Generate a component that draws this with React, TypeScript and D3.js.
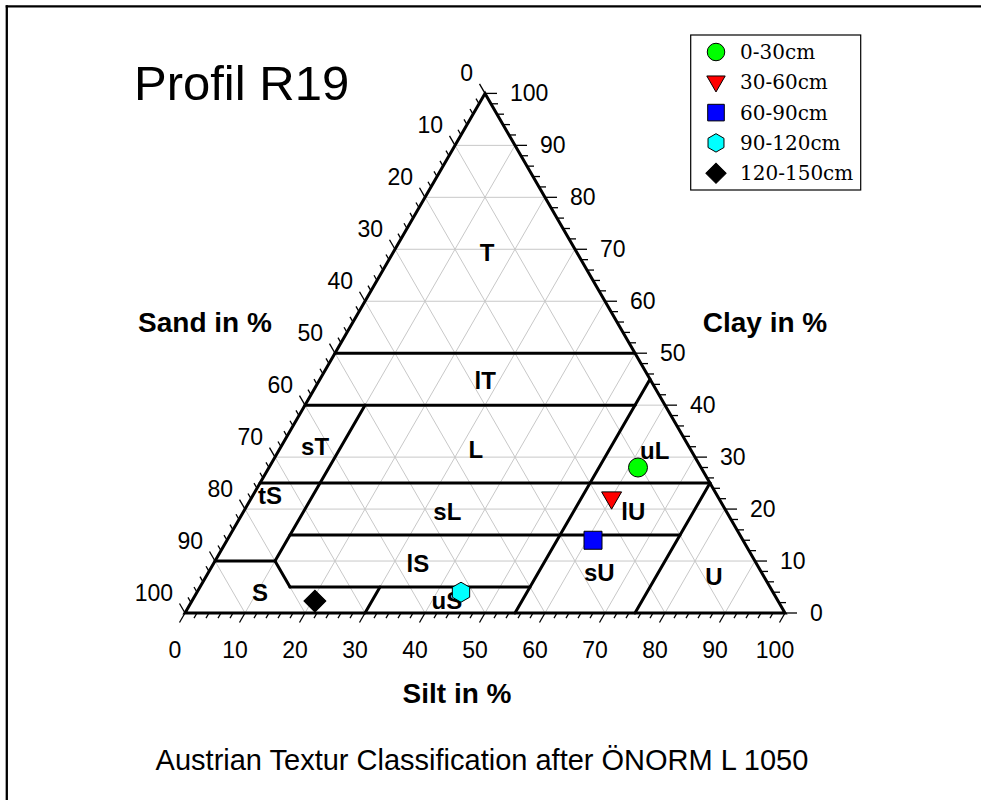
import React from "react";
import * as d3 from "d3";

// ---- data ----
const seriesNames = ["0-30cm", "30-60cm", "60-90cm", "90-120cm", "120-150cm"];
const siltValues = [61.5, 60, 61, 44, 20.5];
const clayValues = [28, 22.2, 14, 4, 2.3];
const markerShapes = ["circle", "triangleDown", "square", "hexagon", "diamond"];
const markerColors = ["#00ff00", "#ff0000", "#0000ff", "#00ffff", "#000000"];

const tickValues = [0, 10, 20, 30, 40, 50, 60, 70, 80, 90, 100];

// class boundaries as [silt, clay] pairs
const boundaryFrom = [[0, 50], [0, 40], [0, 25], [10, 15], [0, 10], [15, 5], [10, 10], [10, 10], [30, 0], [55, 0], [75, 0]];
const boundaryTo = [[50, 50], [55, 40], [75, 25], [75, 15], [10, 10], [55, 5], [10, 40], [15, 5], [30, 5], [55, 45], [75, 25]];

const classNames = ["T", "lT", "L", "sT", "uL", "tS", "sL", "lU", "lS", "sU", "U", "S", "uS"];
const classSilt = [15.7, 27.7, 32.7, 5.7, 62.7, 2.8, 33.9, 64.9, 34, 65.2, 84.6, 10.5, 42.4];
const classClay = [69.3, 44.65, 31.56, 31.95, 31.18, 22.7, 19.63, 19.63, 9.62, 7.7, 7.12, 4.04, 2.5];

const W = 981;
const H = 800;

const sx = d3.scaleLinear().domain([0, 100]).range([185, 785]);
const sy = d3.scaleLinear().domain([0, 100]).range([613, 93.4]);
const px = (silt: number, clay: number) => sx(silt) + (sx(clay) - sx(0)) / 2;
const py = (_silt: number, clay: number) => sy(clay);

const sans = "'Liberation Sans', Arial, sans-serif";

function markerPath(shape: string, scale = 1): string {
  if (shape === "circle") return d3.symbol().type(d3.symbolCircle).size(Math.PI * 9.5 * 9.5 * scale)()!;
  if (shape === "triangleDown") return d3.symbol().type(d3.symbolTriangle).size(173 * scale)()!;
  if (shape === "square") return d3.symbol().type(d3.symbolSquare).size(18 * 18 * scale)()!;
  if (shape === "diamond") return d3.symbol().type(d3.symbolSquare).size(15.5 * 15.5 * scale)()!;
  const r = 10 * Math.sqrt(scale);
  const pts: [number, number][] = d3.range(6).map((k) => {
    const a = ((-90 + 60 * k) * Math.PI) / 180;
    return [r * Math.cos(a), r * Math.sin(a)];
  });
  return d3.line()(pts)! + "Z";
}
function markerRotate(shape: string) {
  if (shape === "triangleDown") return 180;
  if (shape === "diamond") return 45;
  return 0;
}

export default function App() {
  const minor = d3.range(0, 101, 2);
  const grid = d3.range(10, 100, 10);
  const s3 = Math.sqrt(3) / 2;

  return (
    <div style={{ position: "fixed", left: 0, top: 0, width: W, height: H, overflow: "hidden", background: "#fff" }}>
      <svg width={W} height={H} viewBox={`0 0 ${W} ${H}`} style={{ display: "block" }}>
        <rect x={0} y={0} width={W} height={H} fill="#fff" />
        <g stroke="#000" strokeWidth={2.3}>
          <line x1={5.7} y1={6.3} x2={W + 5} y2={6.3} />
          <line x1={6.8} y1={5.2} x2={6.8} y2={H + 5} />
        </g>

        {/* grid */}
        <g stroke="#c8c8c8" strokeWidth={1}>
          {grid.map((v) => (
            <g key={v}>
              <line x1={px(0, v)} y1={py(0, v)} x2={px(100 - v, v)} y2={py(100 - v, v)} />
              <line x1={px(v, 0)} y1={py(v, 0)} x2={px(v, 100 - v)} y2={py(v, 100 - v)} />
              <line x1={px(100 - v, 0)} y1={py(100 - v, 0)} x2={px(0, 100 - v)} y2={py(0, 100 - v)} />
            </g>
          ))}
        </g>

        {/* ticks */}
        <g stroke="#000" strokeWidth={1.3}>
          {minor.map((v) => {
            const major = v % 10 === 0;
            const Lb = major ? 11 : 6;
            const Lr = major ? 12 : 7;
            const bx = px(v, 0), by = py(v, 0);
            const rx = px(100 - v, v), ry = py(100 - v, v);
            const lx = px(0, 100 - v), ly = py(0, 100 - v);
            return (
              <g key={v}>
                <line x1={bx} y1={by} x2={bx - 0.5 * Lb} y2={by + s3 * Lb} />
                <line x1={rx} y1={ry} x2={rx + Lr} y2={ry} />
                <line x1={lx} y1={ly} x2={lx - 0.5 * Lb} y2={ly - s3 * Lb} />
              </g>
            );
          })}
        </g>

        {/* class boundaries */}
        <g stroke="#000" strokeWidth={3} strokeLinecap="round">
          {boundaryFrom.map((f, i) => (
            <line
              key={i}
              x1={px(f[0], f[1])}
              y1={py(f[0], f[1])}
              x2={px(boundaryTo[i][0], boundaryTo[i][1])}
              y2={py(boundaryTo[i][0], boundaryTo[i][1])}
            />
          ))}
        </g>

        {/* triangle outline */}
        <path
          d={d3.line()([
            [px(0, 0), py(0, 0)],
            [px(100, 0), py(100, 0)],
            [px(0, 100), py(0, 100)],
          ])! + "Z"}
          fill="none"
          stroke="#000"
          strokeWidth={3}
          strokeLinejoin="miter"
        />

        {/* class labels */}
        <g fontFamily={sans} fontWeight="bold" fontSize={24} textAnchor="middle" dominantBaseline="central">
          {classNames.map((n, i) => (
            <text key={n} x={px(classSilt[i], classClay[i])} y={py(classSilt[i], classClay[i])}>
              {n}
            </text>
          ))}
        </g>

        {/* tick labels */}
        <g fontFamily={sans} fontSize={23} fill="#000">
          {tickValues.map((v) => (
            <g key={v}>
              <text x={px(v, 0) - 10} y={650} textAnchor="middle" dominantBaseline="central">
                {v}
              </text>
              <text x={px(100 - v, v) + 25} y={py(100 - v, v)} textAnchor="start" dominantBaseline="central">
                {v}
              </text>
              <text x={px(0, 100 - v) - 12} y={py(0, 100 - v) - 20} textAnchor="end" dominantBaseline="central">
                {v}
              </text>
            </g>
          ))}
        </g>

        {/* data points */}
        <g stroke="#000" strokeWidth={1}>
          {siltValues.map((s, i) => (
            <path
              key={i}
              d={markerPath(markerShapes[i])}
              fill={markerColors[i]}
              transform={`translate(${px(s, clayValues[i])},${py(s, clayValues[i])}) rotate(${markerRotate(markerShapes[i])})`}
            />
          ))}
        </g>

        {/* axis titles */}
        <g fontFamily={sans} fontWeight="bold" fontSize={28} textAnchor="middle" dominantBaseline="central">
          <text x={205} y={322}>Sand in %</text>
          <text x={765} y={322}>Clay in %</text>
          <text x={457} y={693}>Silt in %</text>
        </g>

        <text x={134} y={100} fontFamily={sans} fontSize={49}>
          Profil R19
        </text>

        <text x={482} y={760} fontFamily={sans} fontSize={29} textAnchor="middle" dominantBaseline="central">
          Austrian Textur Classification after ÖNORM L 1050
        </text>

        {/* legend */}
        <g>
          <rect x={690.7} y={35} width={170} height={155} fill="#fff" stroke="#000" strokeWidth={1.2} />
          {seriesNames.map((n, i) => {
            const cy = 52 + i * 30.3;
            return (
              <g key={n}>
                <path
                  d={markerPath(markerShapes[i], 0.85)}
                  fill={markerColors[i]}
                  stroke="#000"
                  strokeWidth={1}
                  transform={`translate(716,${cy + (markerShapes[i] === "triangleDown" ? -1 : 0)}) rotate(${markerRotate(markerShapes[i])})`}
                />
                <text x={740} y={cy} fontFamily="'DejaVu Serif', serif" fontSize={20} dominantBaseline="central">
                  {n}
                </text>
              </g>
            );
          })}
        </g>
      </svg>
    </div>
  );
}
